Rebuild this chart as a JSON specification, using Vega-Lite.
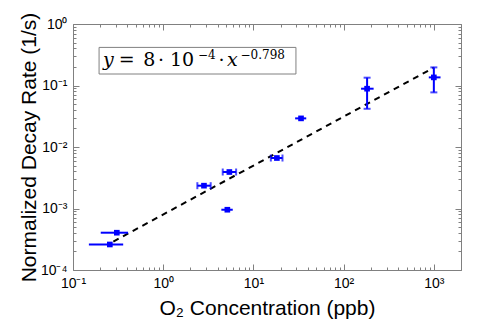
{
  "$schema": "https://vega.github.io/schema/vega-lite/v6.json",
  "width": 388,
  "height": 246,
  "autosize": "none",
  "padding": {"left": 73, "top": 24, "right": 39, "bottom": 57},
  "background": "white",
  "config": {
    "view": {"stroke": "#808080", "strokeWidth": 1},
    "axis": {
      "domain": false, "grid": false, "tickColor": "#808080", "tickWidth": 1,
      "labelFont": "Liberation Sans", "labelFontSize": 14, "labelColor": "#000000",
      "titleFont": "Liberation Sans", "titleFontSize": 21, "titleFontWeight": "normal", "titleColor": "#000000",
      "labelFlush": false, "labelOverlap": false, "labelBound": false
    }
  },
  "datasets": {
    "pts": [
      {"x": 0.256, "y": 0.00026, "xlo": 0.15, "xhi": 0.36},
      {"x": 0.306, "y": 0.000404, "xlo": 0.203, "xhi": 0.408},
      {"x": 2.83, "y": 0.00235, "xlo": 2.39, "xhi": 3.36},
      {"x": 5.41, "y": 0.00392, "xlo": 4.57, "xhi": 6.43},
      {"x": 5.14, "y": 0.000955, "xlo": 4.41, "xhi": 5.9},
      {"x": 18.2, "y": 0.00662, "xlo": 15.6, "xhi": 21.0},
      {"x": 33.7, "y": 0.0292, "xlo": 29.0, "xhi": 38.5},
      {"x": 182, "y": 0.0887, "xlo": 156, "xhi": 215, "ylo": 0.0418, "yhi": 0.134},
      {"x": 1000, "y": 0.1355, "xlo": 879, "xhi": 1186, "ylo": 0.0773, "yhi": 0.197}
    ],
    "hcaps": [
      {"x": 2.39, "y": 0.00235}, {"x": 3.36, "y": 0.00235},
      {"x": 4.57, "y": 0.00392}, {"x": 6.43, "y": 0.00392},
      {"x": 15.6, "y": 0.00662}, {"x": 21.0, "y": 0.00662}
    ],
    "vcaps": [
      {"x": 182, "y": 0.0418}, {"x": 182, "y": 0.134},
      {"x": 1000, "y": 0.0773}, {"x": 1000, "y": 0.197}
    ],
    "fit": [
      {"x": 0.28, "y": 0.00029},
      {"x": 1000, "y": 0.195}
    ],
    "box": [
      {"x": 0.1945, "x2": 29.6, "y": 0.1538, "y2": 0.4164}
    ],
    "eqItalic": [
      {"t": "y", "x": 0.2154, "y": 0.2046},
      {"t": "x", "x": 5.1, "y": 0.2046}
    ],
    "eqMain": [
      {"t": "=", "x": 0.322, "y": 0.2046},
      {"t": "8", "x": 0.5995, "y": 0.2046},
      {"t": "·", "x": 0.873, "y": 0.2046},
      {"t": "10", "x": 1.187, "y": 0.2046},
      {"t": "·", "x": 4.1, "y": 0.2046}
    ],
    "eqSup": [
      {"t": "−4", "x": 2.43, "y": 0.268},
      {"t": "−0.798", "x": 7.2, "y": 0.268}
    ]
  },
  "resolve": {"axis": {"x": "independent", "y": "independent"}},
  "layer": [
    {
      "data": {"name": "box"},
      "mark": {"type": "rect", "fill": "white", "stroke": "#808080", "strokeWidth": 1},
      "encoding": {
        "x": {"field": "x", "type": "quantitative", "scale": {"type": "log", "domain": [0.1, 2000], "nice": false}, "axis": null},
        "x2": {"field": "x2"},
        "y": {"field": "y", "type": "quantitative", "scale": {"type": "log", "domain": [0.0001, 1], "nice": false}, "axis": null},
        "y2": {"field": "y2"}
      }
    },
    {
      "data": {"name": "fit"},
      "mark": {"type": "line", "color": "black", "strokeWidth": 2, "strokeDash": [6, 5]},
      "encoding": {
        "x": {"field": "x", "type": "quantitative", "scale": {"type": "log", "domain": [0.1, 2000], "nice": false},
          "axis": {"orient": "top", "title": null, "labels": false,
            "values": [0.1,0.2,0.3,0.4,0.5,0.6,0.7,0.8,0.9,1,2,3,4,5,6,7,8,9,10,20,30,40,50,60,70,80,90,100,200,300,400,500,600,700,800,900,1000,2000],
            "tickSize": {"condition": {"test": "indexof([0.1,1,10,100,1000], datum.value) >= 0", "value": -6}, "value": -3}}},
        "y": {"field": "y", "type": "quantitative", "scale": {"type": "log", "domain": [0.0001, 1], "nice": false},
          "axis": {"orient": "right", "title": null, "labels": false,
            "values": [0.0001,0.0002,0.0003,0.0004,0.0005,0.0006,0.0007,0.0008,0.0009,0.001,0.002,0.003,0.004,0.005,0.006,0.007,0.008,0.009,0.01,0.02,0.03,0.04,0.05,0.06,0.07,0.08,0.09,0.1,0.2,0.3,0.4,0.5,0.6,0.7,0.8,0.9,1],
            "tickSize": {"condition": {"test": "indexof([1,0.1,0.01,0.001,0.0001], datum.value) >= 0", "value": -6}, "value": -3}}}
      }
    },
    {
      "data": {"name": "pts"},
      "mark": {"type": "rule", "color": "#0000ff", "strokeWidth": 2},
      "encoding": {
        "x": {"field": "xlo", "type": "quantitative", "scale": {"type": "log", "domain": [0.1, 2000], "nice": false}, "axis": null},
        "x2": {"field": "xhi"},
        "y": {"field": "y", "type": "quantitative", "scale": {"type": "log", "domain": [0.0001, 1], "nice": false}, "axis": null}
      }
    },
    {
      "data": {"name": "pts"},
      "transform": [{"filter": "isValid(datum.ylo)"}],
      "mark": {"type": "rule", "color": "#0000ff", "strokeWidth": 2},
      "encoding": {
        "x": {"field": "x", "type": "quantitative", "scale": {"type": "log", "domain": [0.1, 2000], "nice": false}, "axis": null},
        "y": {"field": "ylo", "type": "quantitative", "scale": {"type": "log", "domain": [0.0001, 1], "nice": false}, "axis": null},
        "y2": {"field": "yhi"}
      }
    },
    {
      "data": {"name": "hcaps"},
      "mark": {"type": "tick", "orient": "vertical", "color": "#0000ff", "size": 7, "thickness": 2},
      "encoding": {
        "x": {"field": "x", "type": "quantitative", "scale": {"type": "log", "domain": [0.1, 2000], "nice": false}, "axis": null},
        "y": {"field": "y", "type": "quantitative", "scale": {"type": "log", "domain": [0.0001, 1], "nice": false}, "axis": null}
      }
    },
    {
      "data": {"name": "vcaps"},
      "mark": {"type": "tick", "orient": "horizontal", "color": "#0000ff", "size": 7, "thickness": 2},
      "encoding": {
        "x": {"field": "x", "type": "quantitative", "scale": {"type": "log", "domain": [0.1, 2000], "nice": false}, "axis": null},
        "y": {"field": "y", "type": "quantitative", "scale": {"type": "log", "domain": [0.0001, 1], "nice": false}, "axis": null}
      }
    },
    {
      "data": {"name": "pts"},
      "mark": {"type": "point", "shape": "square", "filled": true, "color": "#0000ff", "size": 32, "opacity": 1},
      "encoding": {
        "x": {"field": "x", "type": "quantitative", "scale": {"type": "log", "domain": [0.1, 2000], "nice": false},
          "axis": {"orient": "bottom", "title": "O₂ Concentration (ppb)", "titlePadding": 4, "labelPadding": 12,
            "values": [0.1,0.2,0.3,0.4,0.5,0.6,0.7,0.8,0.9,1,2,3,4,5,6,7,8,9,10,20,30,40,50,60,70,80,90,100,200,300,400,500,600,700,800,900,1000,2000],
            "labelExpr": "datum.value == 0.1 ? '10⁻¹' : datum.value == 1 ? '10⁰' : datum.value == 10 ? '10¹' : datum.value == 100 ? '10²' : datum.value == 1000 ? '10³' : ''",
            "tickSize": {"condition": {"test": "indexof([0.1,1,10,100,1000], datum.value) >= 0", "value": -6}, "value": -3}}},
        "y": {"field": "y", "type": "quantitative", "scale": {"type": "log", "domain": [0.0001, 1], "nice": false},
          "axis": {"orient": "left", "title": "Normalized Decay Rate (1/s)", "titlePadding": 1, "labelPadding": 12,
            "values": [0.0001,0.0002,0.0003,0.0004,0.0005,0.0006,0.0007,0.0008,0.0009,0.001,0.002,0.003,0.004,0.005,0.006,0.007,0.008,0.009,0.01,0.02,0.03,0.04,0.05,0.06,0.07,0.08,0.09,0.1,0.2,0.3,0.4,0.5,0.6,0.7,0.8,0.9,1],
            "labelExpr": "datum.value == 1 ? '10⁰' : datum.value == 0.1 ? '10⁻¹' : datum.value == 0.01 ? '10⁻²' : datum.value == 0.001 ? '10⁻³' : datum.value == 0.0001 ? '10⁻⁴' : ''",
            "tickSize": {"condition": {"test": "indexof([1,0.1,0.01,0.001,0.0001], datum.value) >= 0", "value": -6}, "value": -3}}}
      }
    },
    {
      "data": {"name": "eqItalic"},
      "mark": {"type": "text", "font": "DejaVu Serif", "fontSize": 19, "fontStyle": "italic", "align": "left", "baseline": "alphabetic", "color": "black"},
      "encoding": {
        "x": {"field": "x", "type": "quantitative", "scale": {"type": "log", "domain": [0.1, 2000], "nice": false}, "axis": null},
        "y": {"field": "y", "type": "quantitative", "scale": {"type": "log", "domain": [0.0001, 1], "nice": false}, "axis": null},
        "text": {"field": "t"}
      }
    },
    {
      "data": {"name": "eqMain"},
      "mark": {"type": "text", "font": "DejaVu Serif", "fontSize": 19, "align": "left", "baseline": "alphabetic", "color": "black"},
      "encoding": {
        "x": {"field": "x", "type": "quantitative", "scale": {"type": "log", "domain": [0.1, 2000], "nice": false}, "axis": null},
        "y": {"field": "y", "type": "quantitative", "scale": {"type": "log", "domain": [0.0001, 1], "nice": false}, "axis": null},
        "text": {"field": "t"}
      }
    },
    {
      "data": {"name": "eqSup"},
      "mark": {"type": "text", "font": "DejaVu Serif", "fontSize": 12, "align": "left", "baseline": "alphabetic", "color": "black"},
      "encoding": {
        "x": {"field": "x", "type": "quantitative", "scale": {"type": "log", "domain": [0.1, 2000], "nice": false}, "axis": null},
        "y": {"field": "y", "type": "quantitative", "scale": {"type": "log", "domain": [0.0001, 1], "nice": false}, "axis": null},
        "text": {"field": "t"}
      }
    }
  ]
}
